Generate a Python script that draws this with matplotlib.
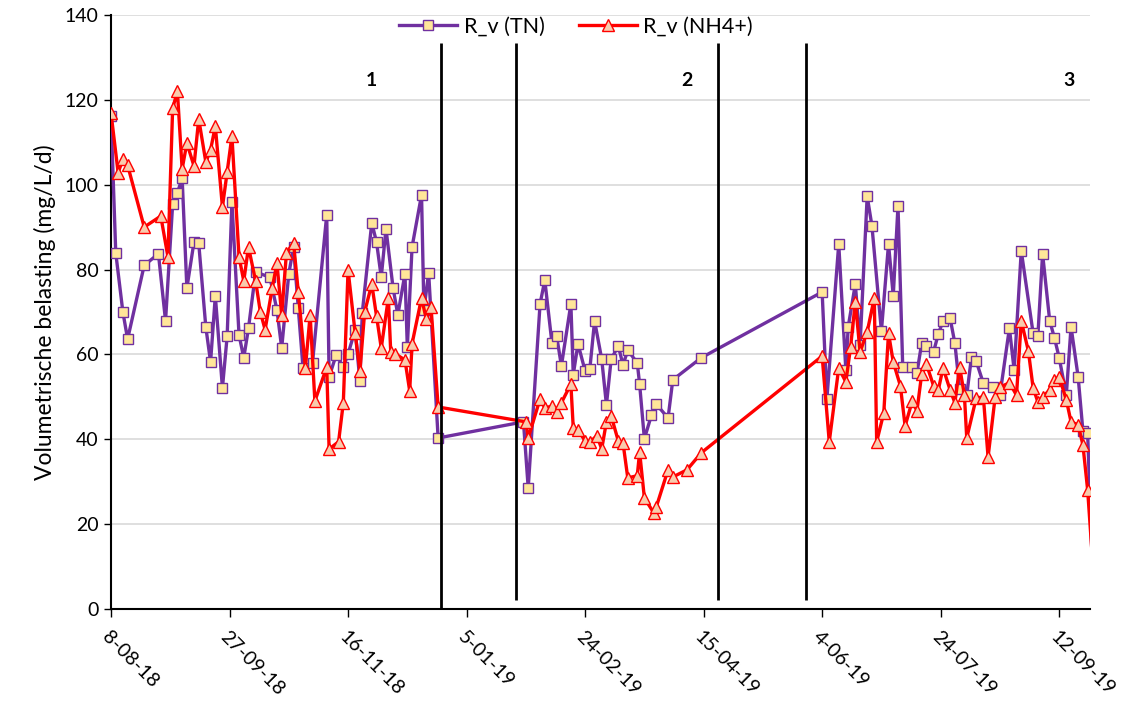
import matplotlib
matplotlib.use("Agg")
import matplotlib.pyplot as plt
import pandas as pd

# ---- data (days since 8-08-2018, values in mg/L/d) ----
start_date = "2018-08-08"

tn_days = [0, 2, 5, 7, 14, 20, 23, 26, 28, 30, 32, 35, 37, 40, 42, 44, 47, 49, 51, 54,
           56, 58, 61, 67, 70, 72, 75, 77, 79, 81, 85, 91, 92, 95, 98, 100, 103, 105, 106,
           110, 112, 114, 116, 119, 121, 124, 125, 127, 131, 132, 134, 138,
           174, 176, 181, 183, 186, 188, 190, 194, 195, 197, 200, 202, 204, 207, 209, 211,
           214, 216, 218, 222, 223, 225, 228, 230, 235, 237, 249,
           300, 302, 307, 310, 311, 314, 316, 319, 321, 325, 328, 330, 332, 334, 338, 340,
           342, 344, 347, 349, 351, 354, 356, 358, 361, 363, 365, 368, 372, 375, 379, 381,
           384, 389, 391, 393, 396, 398, 400, 403, 405, 408, 410, 412, 414]
tn_vals = [116.2, 83.9, 70.0, 63.6, 81.0, 83.7, 67.9, 95.4, 98.0, 101.6, 75.6, 86.5, 86.2,
           66.4, 58.2, 73.8, 52.1, 64.3, 95.9, 64.6, 59.2, 66.2, 79.4, 78.2, 70.5, 61.5,
           79.0, 85.3, 70.9, 56.8, 58.0, 92.9, 54.7, 59.9, 57.0, 60.1, 65.8, 53.7, 69.8,
           91.0, 86.5, 78.2, 89.6, 75.6, 69.3, 79.0, 61.7, 85.3, 97.6, 70.5, 79.2, 40.3,
           44.1, 28.5, 71.9, 77.5, 62.7, 64.3, 57.3, 71.9, 55.2, 62.5, 56.1, 56.6, 67.9,
           58.9, 48.1, 58.9, 62.0, 57.5, 61.0, 58.0, 53.0, 40.1, 45.7, 48.3, 45.0, 54.0,
           59.2,
           74.7, 49.5, 86.0, 56.3, 66.5, 76.6, 62.2, 97.3, 90.3, 65.5, 86.0, 73.8, 95.0,
           57.0, 57.0, 55.6, 62.7, 62.0, 60.6, 64.8, 67.9, 68.5, 62.6, 51.9, 50.4, 59.4,
           58.4, 53.2, 52.3, 50.4, 66.2, 56.3, 84.4, 65.0, 64.3, 83.7, 67.9, 63.9, 59.2,
           50.4, 66.5, 54.7, 42.0, 41.5, 10.0]

nh4_days = [0, 3, 5, 7, 14, 21, 24, 26, 28, 30, 32, 35, 37, 40, 42, 44, 47, 49, 51, 54,
            56, 58, 61, 63, 65, 68, 70, 72, 74, 77, 79, 82, 84, 86, 91, 92, 96, 98, 100,
            103, 105, 107, 110, 112, 114, 117, 118, 120, 124, 126, 127, 131, 133, 135, 138,
            175, 176, 181, 183, 186, 188, 190, 194, 195, 197, 200, 202, 205, 207, 209, 211,
            214, 216, 218, 222, 223, 225, 229, 230, 235, 237, 243, 249,
            300, 303, 307, 310, 312, 314, 316, 319, 322, 323, 326, 328, 330, 333, 335, 338,
            340, 342, 344, 347, 349, 351, 354, 356, 358, 360, 361, 365, 368, 370, 373, 375,
            379, 382, 384, 387, 389, 391, 393, 396, 398, 400, 403, 405, 408, 410, 412, 414]
nh4_vals = [116.9, 102.8, 106.0, 104.6, 90.0, 92.6, 83.0, 118.0, 122.0, 103.7, 109.8,
            104.4, 115.5, 105.3, 108.2, 113.8, 94.7, 103.0, 111.5, 83.0, 77.3, 85.3, 77.3,
            70.0, 65.8, 75.6, 81.5, 69.3, 83.9, 86.3, 74.7, 56.8, 69.3, 49.0, 57.0, 37.7,
            39.4, 48.6, 79.9, 65.0, 56.1, 70.0, 76.6, 69.1, 61.5, 73.3, 60.6, 60.1, 58.7,
            51.4, 62.5, 73.3, 68.3, 71.2, 47.6,
            44.1, 40.3, 49.5, 47.4, 47.8, 46.4, 48.6, 53.0, 42.7, 42.2, 39.6, 39.4, 40.8,
            37.7, 44.1, 45.5, 39.6, 39.1, 30.9, 31.4, 37.0, 26.2, 22.6, 24.0, 32.8, 31.1,
            32.8, 36.8,
            59.6, 39.4, 56.8, 53.5, 61.7, 72.4, 60.6, 65.3, 73.3, 39.4, 46.2, 65.0, 58.2,
            52.6, 43.1, 49.0, 46.7, 55.4, 57.7, 52.6, 51.6, 56.8, 51.6, 48.6, 57.0, 50.5,
            40.3, 49.7, 50.0, 35.8, 50.0, 52.3, 53.3, 50.4, 67.9, 60.8, 52.1, 48.8, 50.0,
            51.6, 54.0, 54.7, 49.3, 44.1, 43.4, 38.7, 28.1, 12.0]

# phase separators (days since start) and phase labels
phase_lines = [139, 171, 256, 293]
phase_labels = ["1", "2", "3"]
phase_label_days = [110, 243, 404]

tick_step_days = 50
x_end_day = 413

# ---- plotting ----
plt.rcParams['font.family'] = ['Lato', 'DejaVu Sans']

base = pd.Timestamp(start_date)
tn_x = base + pd.to_timedelta(tn_days, unit="D")
nh4_x = base + pd.to_timedelta(nh4_days, unit="D")

# markers only for points inside the visible date range
tn_mark = [i for i, d in enumerate(tn_days) if d <= x_end_day]
nh4_mark = [i for i, d in enumerate(nh4_days) if d <= x_end_day]

fig = plt.figure(figsize=(11.34, 7.12), dpi=100)
ax = fig.add_axes([0.0979, 0.1447, 0.8633, 0.8343])

purple = "#7030A0"
red = "#FF0000"

ax.plot(tn_x, tn_vals, color=purple, lw=2.4, marker="s", ms=7.5, markevery=tn_mark,
        mfc="#FFE699", mec=purple, mew=1.0, label="R_v (TN)", zorder=3)
ax.plot(nh4_x, nh4_vals, color=red, lw=2.4, marker="^", ms=9, markevery=nh4_mark,
        mfc="#F8CBAD", mec=red, mew=1.0, label="R_v (NH4+)", zorder=4)

for i, d in enumerate(phase_lines):
    ymin = 0 if i == 0 else 2
    ax.vlines(base + pd.Timedelta(days=d), ymin, 133.5, color="black", lw=2, zorder=5)

for lab, d in zip(phase_labels, phase_label_days):
    ax.text(base + pd.Timedelta(days=d), 124.5, lab, fontsize=14, fontweight="bold",
            ha="center", va="center", zorder=6)

ax.set_ylim(0, 140)
ax.set_yticks(range(0, 141, 20))
ax.set_xlim(base, base + pd.Timedelta(days=x_end_day))

ticks = [base + pd.Timedelta(days=k) for k in range(0, 401, tick_step_days)]
ax.set_xticks(ticks)
ax.set_xticklabels([f"{t.day}-{t.month:02d}-{t.year % 100:02d}" for t in ticks],
                   rotation=-45, ha="left", va="top", rotation_mode="anchor", fontsize=14)
ax.tick_params(axis="x", direction="out", length=6, width=1, pad=8)
ax.tick_params(axis="y", direction="out", length=5, width=1, labelsize=14, pad=4)

ax.grid(axis="y", color="#D9D9D9", lw=1.2, zorder=0)
ax.set_axisbelow(True)
for s in ["top", "right"]:
    ax.spines[s].set_visible(False)
for s in ["left", "bottom"]:
    ax.spines[s].set_linewidth(1.5)
    ax.spines[s].set_color("black")

ax.set_ylabel("Volumetrische belasting (mg/L/d)", fontsize=16.5, labelpad=6)

leg = ax.legend(loc="center", bbox_to_anchor=(0.475, 0.98), ncol=2, frameon=False,
                fontsize=15.5, handlelength=2.7, columnspacing=1.6, handletextpad=0.3)

fig.savefig("out.png", dpi=100)
